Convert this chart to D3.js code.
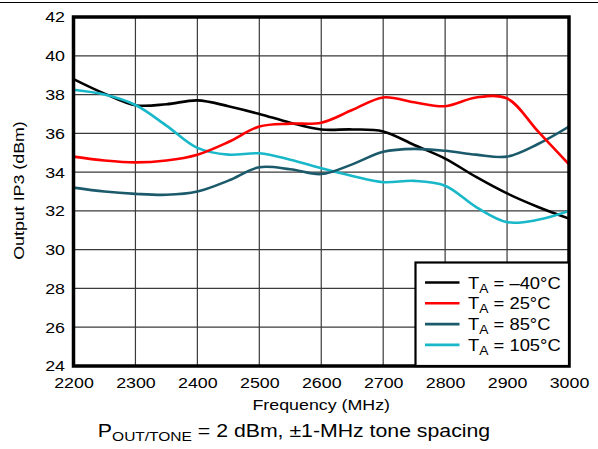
<!DOCTYPE html>
<html>
<head>
<meta charset="utf-8">
<script src="https://cdn.jsdelivr.net/npm/d3@7"></script>
<style>
  body { margin: 0; background: #fff; }
  svg text { font-family: "Liberation Sans", Arial, sans-serif; fill: #000; }
</style>
</head>
<body>
<svg id="chart" width="598" height="449"></svg>
<script>
var freqs = [2200, 2250, 2300, 2350, 2400, 2450, 2500, 2550, 2600, 2650, 2700, 2750, 2800, 2850, 2900, 2950, 3000]
var ta_m40 = [38.8, 38.05, 37.45, 37.5, 37.7, 37.4, 37.0, 36.55, 36.2, 36.2, 36.1, 35.4, 34.7, 33.75, 32.9, 32.2, 31.6]
var ta_25 = [34.8, 34.6, 34.5, 34.6, 34.9, 35.55, 36.35, 36.5, 36.55, 37.2, 37.85, 37.6, 37.4, 37.85, 37.8, 36.1, 34.4]
var ta_85 = [33.2, 33.0, 32.88, 32.83, 33.0, 33.56, 34.25, 34.15, 33.9, 34.4, 35.05, 35.2, 35.1, 34.9, 34.8, 35.45, 36.35]
var ta_105 = [38.25, 38.0, 37.46, 36.4, 35.25, 34.9, 34.97, 34.64, 34.2, 33.8, 33.48, 33.55, 33.3, 32.2, 31.42, 31.54, 32.0]
var xTicks = [2200, 2300, 2400, 2500, 2600, 2700, 2800, 2900, 3000]
var yTicks = [24, 26, 28, 30, 32, 34, 36, 38, 40, 42]
var seriesNames = ['\u201340\u00B0C', '25\u00B0C', '85\u00B0C', '105\u00B0C']
var seriesColors = ['#000000', '#ff0000', '#1b5a6b', '#19b8c9']

var svg = d3.select('#chart')
var pLeft = 73.5, pRight = 569, pTop = 17, pBottom = 366
var sx = 1.15  // reference font is set wide

var x = d3.scaleLinear().domain([2200, 3000]).range([pLeft, pRight])
var y = d3.scaleLinear().domain([24, 42]).range([pBottom, pTop])

// thin rule across top of page
svg.append('line')
    .attr('x1', 0).attr('x2', 598).attr('y1', 2.5).attr('y2', 2.5)
    .attr('stroke', '#000').attr('stroke-width', 1)

// grid
svg.append('g').selectAll('line')
    .data(xTicks.slice(1, -1))
    .enter()
        .append('line')
        .attr('x1', function(d) { return x(d); })
        .attr('x2', function(d) { return x(d); })
        .attr('y1', pTop).attr('y2', pBottom)
        .attr('stroke', '#3a3a3a').attr('stroke-width', 1.2)
svg.append('g').selectAll('line')
    .data(yTicks.slice(1, -1))
    .enter()
        .append('line')
        .attr('x1', pLeft).attr('x2', pRight)
        .attr('y1', function(d) { return y(d); })
        .attr('y2', function(d) { return y(d); })
        .attr('stroke', '#3a3a3a').attr('stroke-width', 1.2)

// curves
var series = [ta_m40, ta_25, ta_85, ta_105]
var line = d3.line()
    .x(function(d, i) { return x(freqs[i]); })
    .y(function(d) { return y(d); })
    .curve(d3.curveCatmullRom.alpha(0.5))

svg.append('defs').append('clipPath').attr('id', 'plotclip')
    .append('rect').attr('x', pLeft).attr('y', pTop).attr('width', pRight - pLeft).attr('height', pBottom - pTop)

var drawOrder = [0, 3, 2, 1]
svg.append('g').attr('clip-path', 'url(#plotclip)')
    .selectAll('path')
    .data(drawOrder)
    .enter()
        .append('path')
        .attr('d', function(k) { return line(series[k]); })
        .attr('fill', 'none')
        .attr('stroke', function(k) { return seriesColors[k]; })
        .attr('stroke-width', 2.6)

// frame
svg.append('rect')
    .attr('x', pLeft).attr('y', pTop)
    .attr('width', pRight - pLeft).attr('height', pBottom - pTop)
    .attr('fill', 'none').attr('stroke', '#000').attr('stroke-width', 3.5)

// axes, labels only
var xAxis = svg.append('g')
    .attr('transform', 'translate(0,' + pBottom + ')')
    .call(d3.axisBottom(x).tickValues(xTicks).tickSize(0).tickPadding(11).tickFormat(d3.format('d')))
xAxis.select('.domain').remove()
xAxis.selectAll('text')
    .attr('font-size', 15.5).attr('font-family', '"Liberation Sans", Arial, sans-serif').attr('fill', '#000')
    .attr('transform', 'scale(' + sx + ',1)')

var yAxis = svg.append('g')
    .attr('transform', 'translate(' + pLeft + ',0)')
    .call(d3.axisLeft(y).tickValues(yTicks).tickSize(0).tickPadding(0).tickFormat(d3.format('d')))
yAxis.select('.domain').remove()
yAxis.selectAll('text')
    .attr('font-size', 15.5).attr('font-family', '"Liberation Sans", Arial, sans-serif').attr('fill', '#000')
    .attr('x', -8.5 / sx)
    .attr('transform', 'scale(' + sx + ',1)')

// axis titles
svg.append('g').attr('transform', 'translate(' + ((pLeft + pRight) / 2) + ',410) scale(' + sx + ',1)')
    .append('text')
    .attr('text-anchor', 'middle').attr('font-size', 15.5)
    .text('Frequency (MHz)')
svg.append('g').attr('transform', 'translate(23.5,190.5) rotate(-90) scale(' + sx + ',1)')
    .append('text')
    .attr('text-anchor', 'middle').attr('font-size', 15.5)
    .text('Output IP3 (dBm)')

// bottom caption
var cap = svg.append('g').attr('transform', 'translate(294,437) scale(' + sx + ',1)')
    .append('text')
    .attr('text-anchor', 'middle').attr('font-size', 18.5)
cap.append('tspan').text('P')
cap.append('tspan').attr('font-size', 13.5).attr('dy', 4).text('OUT/TONE')
cap.append('tspan').attr('dy', -4).text(' = 2 dBm, \u00B11-MHz tone spacing')

// legend
var lg = svg.append('g')
lg.append('rect')
    .attr('x', 415.5).attr('y', 262.5).attr('width', pRight - 415.5).attr('height', pBottom - 262.5)
    .attr('fill', '#fff').attr('stroke', '#000').attr('stroke-width', 2.2)
var rows = lg.selectAll('g.row')
    .data(seriesNames)
    .enter()
        .append('g')
        .attr('class', 'row')
        .attr('transform', function(d, i) { return 'translate(0,' + (282.5 + i * 20.8) + ')'; })
rows.append('line')
    .attr('x1', 425).attr('x2', 459.5).attr('y1', 0).attr('y2', 0)
    .attr('stroke', function(d, i) { return seriesColors[i]; })
    .attr('stroke-width', 2.6)
var lt = rows.append('g')
    .attr('transform', 'translate(468,6) scale(' + sx + ',1)')
    .append('text')
    .attr('font-size', 16)
lt.append('tspan').text('T')
lt.append('tspan').attr('font-size', 12).attr('dy', 4).text('A')
lt.append('tspan').attr('dy', -4).text(function(d) { return ' = ' + d; })
</script>
</body>
</html>
